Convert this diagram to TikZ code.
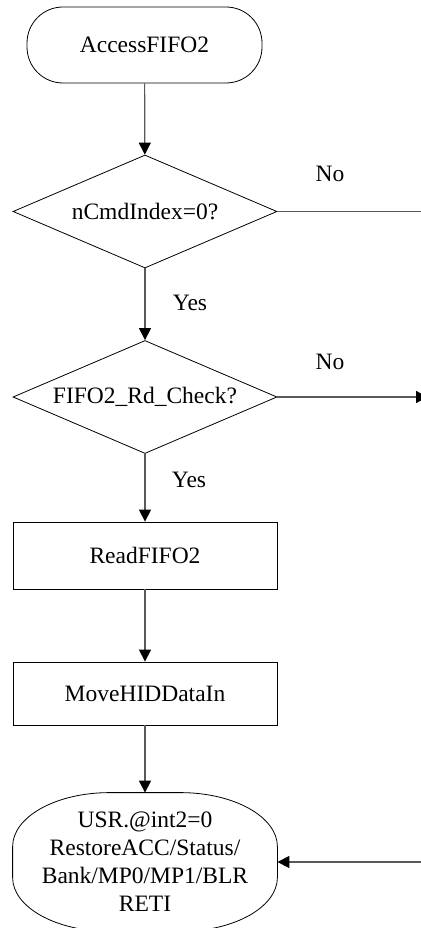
\documentclass[tikz,border=0pt]{standalone}
\usepackage{fontspec}
\setmainfont{Liberation Serif}
\usetikzlibrary{shapes.geometric,arrows.meta}
\begin{document}
\begin{tikzpicture}[x=1pt,y=-1pt,
  every node/.style={font=\fontsize{23.5}{28}\selectfont},
  outline/.style={draw=black,line width=0.8pt},
  terminal/.style={outline,rectangle,inner sep=0pt,align=center},
  decision/.style={outline,diamond,aspect=2.6,inner sep=0pt,
    minimum width=264pt,minimum height=113pt},
  process/.style={outline,rectangle,inner sep=0pt,minimum width=264pt},
  link/.style={draw=black!65,line width=1.2pt},
  flow/.style={link,-{Triangle[length=12pt,width=12pt,fill=black,color=black]}},
  lbl/.style={inner sep=0pt}
]
\useasboundingbox (0,0) rectangle (420,928);

% shapes of the flow
\node[terminal,minimum width=235pt,minimum height=76pt,rounded corners=36pt]
  (start) at (144.5,45) {AccessFIFO2};
\node[decision] (d1) at (145,211.5) {nCmdIndex=0?};
\node[decision] (d2) at (145,397) {FIFO2\_Rd\_Check?};
\node[process,minimum height=67pt] (read) at (145,555.5) {ReadFIFO2};
\node[process,minimum height=63pt] (move) at (145,693.5) {MoveHIDDataIn};
\node[terminal,draw=none,minimum width=264pt,minimum height=138pt]
  (finish) at (145,862) {USR.@int2=0\\RestoreACC/Status/\\Bank/MP0/MP1/BLR\\RETI};
% end terminal outline with elliptical corners
\draw[outline]
  ([xshift=-97pt]finish.north east)
    arc[start angle=90,end angle=0,x radius=97pt,y radius=54pt]
  -- ([yshift=54pt]finish.south east)
    arc[start angle=0,end angle=-90,x radius=97pt,y radius=54pt]
  -- ([xshift=97pt]finish.south west)
    arc[start angle=270,end angle=180,x radius=97pt,y radius=54pt]
  -- ([yshift=-54pt]finish.north west)
    arc[start angle=180,end angle=90,x radius=97pt,y radius=54pt]
  -- cycle;

% free ends of the branches leaving to the right
\coordinate (r1) at (421,211.5);
\coordinate (r2) at (428,397);
\coordinate (r3) at (421,862);

% connectors
\draw[flow] (start) -- (d1);
\draw[link] (d1.east) -- (r1);
\draw[flow] (d1) -- (d2);
\draw[flow] (d2.east) -- (r2);
\draw[flow] (d2) -- (read);
\draw[flow] (read) -- (move);
\draw[flow] (move) -- (finish);
\draw[flow] (r3) -- (finish.east);

% branch labels
\node[lbl] (no1) at (330,174) {No};
\node[lbl] (yes1) at (190,303) {Yes};
\node[lbl] (no2) at (330,362) {No};
\node[lbl] (yes2) at (189,480) {Yes};
\end{tikzpicture}
\end{document}
